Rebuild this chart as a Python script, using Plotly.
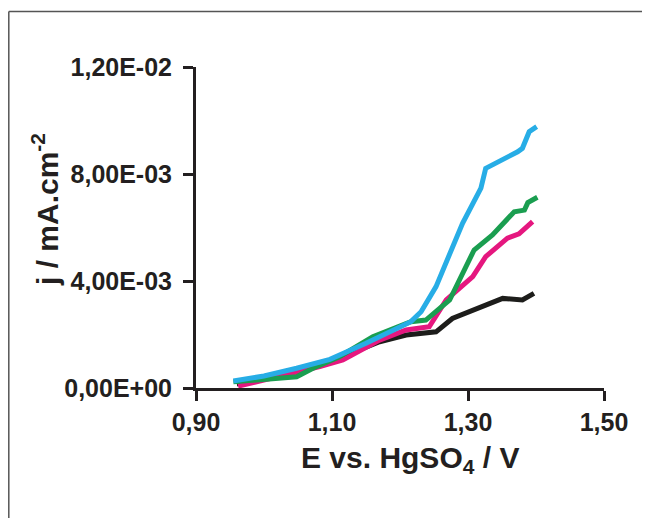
import plotly.graph_objects as go

# Data
E_cyan = [0.955, 1.000, 1.048, 1.097, 1.150, 1.189, 1.216, 1.231, 1.253, 1.292, 1.319, 1.326, 1.351, 1.373, 1.380, 1.390, 1.401]
j_cyan = [0.00026, 0.00045, 0.00074, 0.00107, 0.00167, 0.00217, 0.00248, 0.00285, 0.00379, 0.00616, 0.00747, 0.00821, 0.00852, 0.00883, 0.00896, 0.00958, 0.00977]

E_green = [0.955, 1.000, 1.048, 1.077, 1.111, 1.160, 1.216, 1.238, 1.273, 1.309, 1.336, 1.368, 1.383, 1.388, 1.402]
j_green = [0.00023, 0.00034, 0.00042, 0.00080, 0.00117, 0.00192, 0.00248, 0.00254, 0.00329, 0.00516, 0.00572, 0.00659, 0.00665, 0.00693, 0.00713]

E_magenta = [0.962, 1.020, 1.082, 1.116, 1.170, 1.209, 1.243, 1.268, 1.307, 1.326, 1.358, 1.375, 1.395]
j_magenta = [0.00007, 0.00040, 0.00080, 0.00105, 0.00179, 0.00217, 0.00229, 0.00329, 0.00416, 0.00491, 0.00560, 0.00576, 0.00622]

E_black = [0.960, 1.030, 1.121, 1.170, 1.209, 1.253, 1.277, 1.307, 1.351, 1.380, 1.397]
j_black = [0.00015, 0.00050, 0.00123, 0.00173, 0.00198, 0.00210, 0.00260, 0.00292, 0.00335, 0.00329, 0.00354]

x_ticks = [0.90, 1.10, 1.30, 1.50]
x_ticklabels = ["0,90", "1,10", "1,30", "1,50"]
y_ticks = [0.0, 0.004, 0.008, 0.012]
y_ticklabels = ["0,00E+00", "4,00E-03", "8,00E-03", "1,20E-02"]

FONT = "Liberation Sans, Arial, sans-serif"
AX = "#231f20"

fig = go.Figure()
series = [
    (E_black, j_black, "#1d1d1b"),
    (E_magenta, j_magenta, "#e5177f"),
    (E_green, j_green, "#1a9e50"),
    (E_cyan, j_cyan, "#27ade6"),
]
for xs, ys, col in series:
    fig.add_trace(go.Scatter(x=xs, y=ys, mode="lines",
                             line=dict(color=col, width=5, shape="linear"),
                             showlegend=False, hoverinfo="skip"))

OFF = 8  # page body margin
W, H = 650, 518
# plot area in screen pixels: x 196..604, y 67..388
L = 196 - OFF
T = 67 - OFF
R = W - (604 - OFF)
B = H - (388 - OFF)
pw = W - L - R
ph = H - T - B

def px(xs):
    return (xs - OFF - L) / pw

def py(ys):
    return (H - B - (ys - OFF)) / ph

fig.update_layout(
    width=W, height=H,
    margin=dict(l=L, r=R, t=T, b=B, pad=0),
    paper_bgcolor="white", plot_bgcolor="white",
    font=dict(family=FONT, color=AX),
    xaxis=dict(range=[0.9, 1.5], tickvals=x_ticks, ticktext=x_ticklabels,
               showgrid=False, zeroline=False, showline=True, linecolor=AX, linewidth=3,
               ticks="outside", ticklen=10, tickwidth=3, tickcolor=AX,
               tickfont=dict(family=FONT, size=25, color=AX, weight="bold"),
               ticklabelstandoff=0),
    yaxis=dict(range=[0, 0.012], tickvals=y_ticks, ticktext=y_ticklabels,
               showgrid=False, zeroline=False, showline=True, linecolor=AX, linewidth=3,
               ticks="outside", ticklen=10, tickwidth=3, tickcolor=AX,
               tickfont=dict(family=FONT, size=25, color=AX, weight="bold"),
               ticklabelstandoff=6),
    shapes=[
        dict(type="line", xref="paper", yref="paper", x0=px(OFF + 0.8), x1=px(OFF + 0.8), y0=py(11.5), y1=py(530),
             line=dict(color="#555", width=1.5), layer="below"),
        dict(type="line", xref="paper", yref="paper", x0=px(OFF + 0.8), x1=px(670), y0=py(11.5), y1=py(11.5),
             line=dict(color="#555", width=1.5), layer="below"),
    ],
    annotations=[
        dict(text="E vs. HgSO<sub>4</sub> / V", xref="paper", yref="paper",
             x=px(410), y=py(459), xanchor="center", yanchor="middle", showarrow=False,
             font=dict(family=FONT, size=30, color=AX, weight="bold")),
        dict(text="j / mA.cm<sup>-2</sup>", xref="paper", yref="paper",
             x=px(45), y=py(210), xanchor="center", yanchor="middle", showarrow=False,
             textangle=-90,
             font=dict(family=FONT, size=30, color=AX, weight="bold")),
    ],
)

fig.write_html("out.html")
